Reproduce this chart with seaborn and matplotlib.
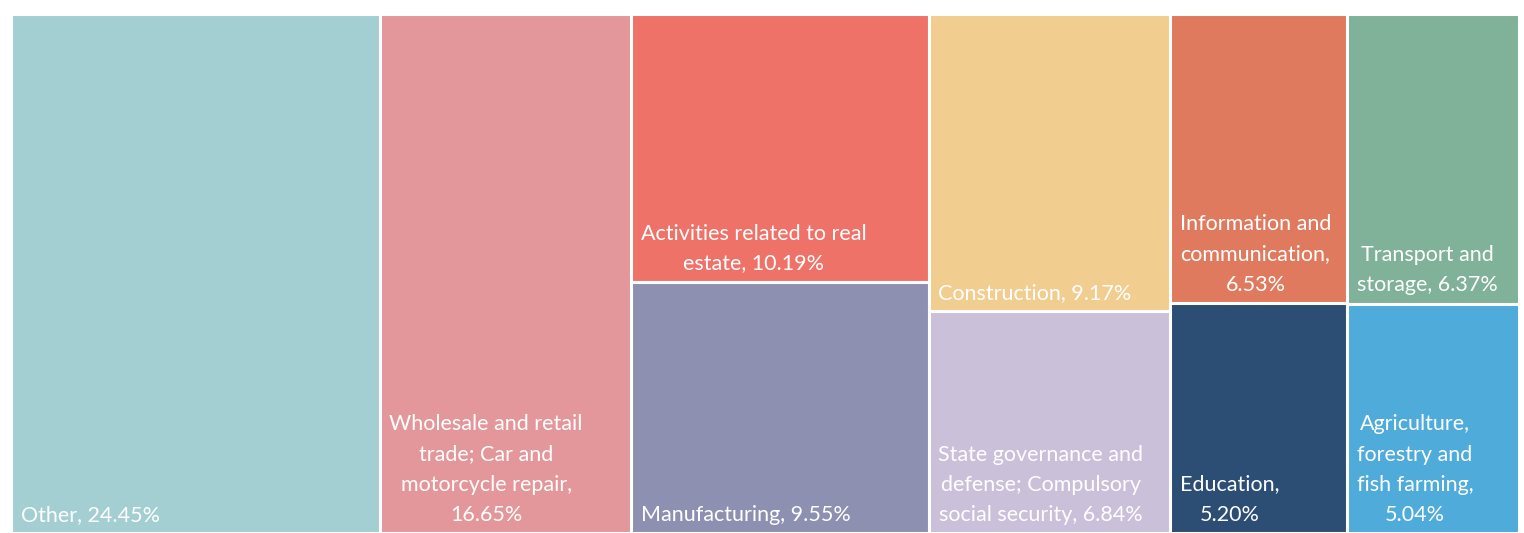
import textwrap
import matplotlib
matplotlib.use("Agg")
import matplotlib.pyplot as plt
from matplotlib.patches import Rectangle
import seaborn as sns

# ---- data ----
categories = [
    "Other",
    "Wholesale and retail trade; Car and motorcycle repair",
    "Activities related to real estate",
    "Manufacturing",
    "Construction",
    "State governance and defense; Compulsory social security",
    "Information and communication",
    "Education",
    "Transport and storage",
    "Agriculture, forestry and fish farming",
]
shares = [24.45, 16.65, 10.19, 9.55, 9.17, 6.84, 6.53, 5.20, 6.37, 5.04]
colors = ["#A4CFD2", "#E3979B", "#EF7268", "#8D90B0", "#F1CD8F",
          "#CBC0DA", "#E07A5F", "#2C4D74", "#80B199", "#4FABD9"]
# layout: tiles grouped into columns (top to bottom)
columns = [[0], [1], [2, 3], [4, 5], [6, 7], [8, 9]]
wrap_widths = [100, 20, 26, 100, 100, 22, 15, 10, 14, 13]

sns.set_theme(style="white")
plt.rcParams["font.family"] = ["Lato", "DejaVu Sans"]

W, H, DPI = 1524, 533, 100
fig = plt.figure(figsize=(W / DPI, H / DPI), dpi=DPI)
fig.patch.set_facecolor("white")
ax = fig.add_axes([11 / W, 0, 1508 / W, 519 / H])
total = sum(shares)
ax.set_xlim(0, total)
ax.set_ylim(1, 0)
ax.axis("off")

x = 0.0
for col in columns:
    cw = sum(shares[i] for i in col)
    y = 0.0
    for i in col:
        h = shares[i] / cw
        ax.add_patch(Rectangle((x, y), cw, h, facecolor=colors[i],
                               edgecolor="white", linewidth=2.2))
        label = textwrap.fill(f"{categories[i]}, {shares[i]:.2f}%",
                              width=wrap_widths[i])
        ax.annotate(label, xy=(x, y + h), xytext=(7, 6),
                    textcoords="offset points", ha="left", va="bottom",
                    multialignment="center", color="white",
                    fontsize=15.5, linespacing=1.63)
        y += h
    x += cw

fig.savefig("out.png", dpi=DPI, facecolor="white")
